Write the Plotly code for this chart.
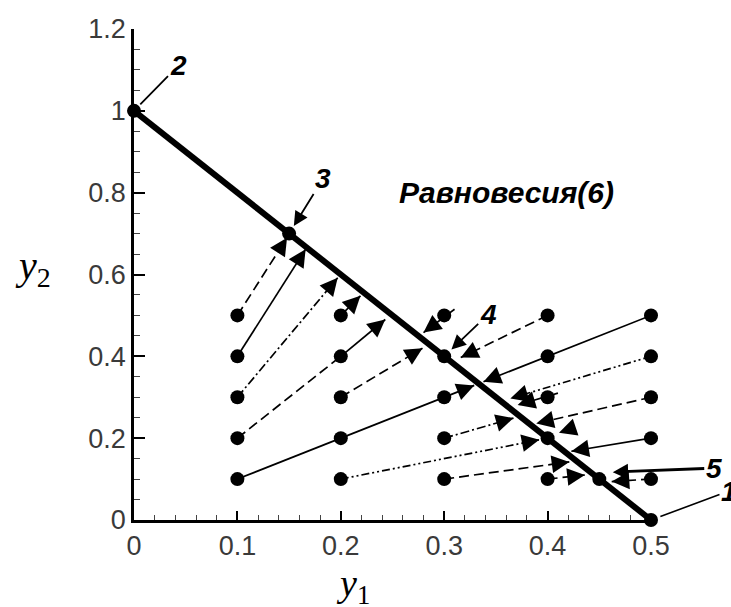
import math
import plotly.graph_objects as go

# ---------------- data ----------------
grid_x = [0.1, 0.2, 0.3, 0.4, 0.5]
grid_y = [0.1, 0.2, 0.3, 0.4, 0.5]

# special (labelled) points: 2, 3, 5, 1
special_x = [0.0, 0.15, 0.45, 0.5]
special_y = [1.0, 0.7, 0.1, 0.0]

# equilibrium line
eq_x = [0.0, 0.5]
eq_y = [1.0, 0.0]

# trajectories (start -> end)
traj_x0 = [0.1, 0.1, 0.1, 0.1, 0.2, 0.1, 0.2, 0.2, 0.2, 0.31, 0.3, 0.3, 0.4, 0.41, 0.4, 0.5, 0.5, 0.5, 0.5, 0.5]
traj_y0 = [0.5, 0.4, 0.3, 0.2, 0.4, 0.1, 0.5, 0.3, 0.1, 0.515, 0.2, 0.1, 0.5, 0.31, 0.1, 0.5, 0.4, 0.3, 0.2, 0.1]
traj_x1 = [0.148, 0.166, 0.197, 0.2, 0.243, 0.329, 0.219, 0.279, 0.392, 0.28, 0.367, 0.421, 0.316, 0.371, 0.436, 0.338, 0.364, 0.389, 0.423, 0.462]
traj_y1 = [0.69, 0.662, 0.592, 0.4, 0.49, 0.329, 0.548, 0.42, 0.196, 0.458, 0.249, 0.142, 0.397, 0.281, 0.11, 0.338, 0.297, 0.236, 0.168, 0.094]
traj_style = ["dash", "solid", "dashdot", "dash", "solid", "solid", "solid", "dash", "dashdotdot", "dashdot",
              "dashdot", "dash", "dash", "dash", "dash", "solid", "dashdotdot", "dash", "solid", "dash"]
traj_head = [True, True, True, False, True, True, True, True, True, True,
             True, True, True, True, True, True, True, True, True, True]

# lone arrow head near (0.41, 0.21)
lone_x0, lone_y0 = [0.425], [0.225]
lone_x1, lone_y1 = [0.411], [0.213]

x_ticks = [0, 0.1, 0.2, 0.3, 0.4, 0.5]
x_ticktext = ["0", "0.1", "0.2", "0.3", "0.4", "0.5"]
y_ticks = [0, 0.2, 0.4, 0.6, 0.8, 1.0, 1.2]
y_ticktext = ["0", "0.2", "0.4", "0.6", "0.8", "1", "1.2"]

# ---------------- layout geometry ----------------
W, H = 731, 607
ML, MR, MT, MB = 134, 80, 29, 87
XR = [0, 0.5]
YR = [0, 1.2]
sx = (W - ML - MR) / (XR[1] - XR[0])
sy = (H - MT - MB) / (YR[1] - YR[0])

dash_map = {
    "solid": "solid",
    "dash": "10px,5px",
    "dashdot": "9px,3px,2px,3px",
    "dashdotdot": "8px,3px,2px,3px,2px,3px",
}

fig = go.Figure()

# trajectories
for x0, y0, x1, y1, st in zip(traj_x0, traj_y0, traj_x1, traj_y1, traj_style):
    fig.add_trace(go.Scatter(x=[x0, x1], y=[y0, y1], mode="lines",
                             line=dict(color="black", width=1.7, dash=dash_map[st]),
                             hoverinfo="skip", showlegend=False))

# equilibrium line
fig.add_trace(go.Scatter(x=eq_x, y=eq_y, mode="lines",
                         line=dict(color="black", width=6),
                         hoverinfo="skip", showlegend=False))

# grid dots
gx = [x for x in grid_x for _ in grid_y]
gy = [y for _ in grid_x for y in grid_y]
fig.add_trace(go.Scatter(x=gx + special_x, y=gy + special_y, mode="markers",
                         marker=dict(color="black", size=14),
                         cliponaxis=False, hoverinfo="skip", showlegend=False))

annotations = []


def head(x0, y0, x1, y1, L=18):
    dxp = (x1 - x0) * sx
    dyp = -(y1 - y0) * sy
    n = math.hypot(dxp, dyp)
    return dict(x=x1, y=y1, xref="x", yref="y", text=" ", showarrow=True,
                font=dict(size=1),
                ax=-dxp / n * L, ay=-dyp / n * L,
                arrowhead=2, arrowsize=2.2, arrowwidth=1.6, arrowcolor="black",
                standoff=0)


for x0, y0, x1, y1, h in zip(traj_x0, traj_y0, traj_x1, traj_y1, traj_head):
    if h:
        annotations.append(head(x0, y0, x1, y1))
for x0, y0, x1, y1 in zip(lone_x0, lone_y0, lone_x1, lone_y1):
    annotations.append(head(x0, y0, x1, y1))

lab_font = dict(family="Liberation Sans, Arial, sans-serif", size=28, color="black")

# labelled points
annotations += [
    dict(x=0.0, y=1.0, xref="x", yref="y", text="<b><i>2</i></b>", font=lab_font,
         showarrow=True, ax=44, ay=-45, arrowhead=0, arrowwidth=1.8, arrowcolor="black", standoff=9),
    dict(x=0.15, y=0.7, xref="x", yref="y", text="<b><i>3</i></b>", font=lab_font,
         showarrow=True, ax=34, ay=-55, arrowhead=2, arrowsize=1.6, arrowwidth=1.8,
         arrowcolor="black", standoff=9),
    dict(x=0.3, y=0.4, xref="x", yref="y", text="<b><i>4</i></b>", font=lab_font,
         showarrow=True, ax=44, ay=-42, arrowhead=2, arrowsize=1.6, arrowwidth=1.8,
         arrowcolor="black", standoff=10),
    dict(x=0.463, y=0.117, xref="x", yref="y", text="<b><i>5</i></b>", font=lab_font,
         showarrow=True, ax=101, ay=-4, arrowhead=2, arrowsize=1.1, arrowwidth=2.8,
         arrowcolor="black", standoff=0),
    dict(x=0.5, y=0.0, xref="x", yref="y", text="<b><i>1</i></b>", font=lab_font,
         showarrow=True, ax=78, ay=-29, arrowhead=0, arrowwidth=1.6, arrowcolor="black", standoff=10),
    dict(x=0.36, y=0.8, xref="x", yref="y", text="<b><i>Равновесия(6)</i></b>",
         font=dict(family="Liberation Sans, Arial, sans-serif", size=30, color="black"),
         showarrow=False, xanchor="center", yanchor="middle"),
    dict(x=-0.195, y=0.513, xref="paper", yref="paper", text="<i>y</i><sub>2</sub>",
         font=dict(family="Liberation Serif, Times New Roman, serif", size=40, color="black"),
         showarrow=False, xanchor="center", yanchor="middle"),
    dict(x=0.424, y=-0.134, xref="paper", yref="paper", text="<i>y</i><sub>1</sub>",
         font=dict(family="Liberation Serif, Times New Roman, serif", size=38, color="black"),
         showarrow=False, xanchor="center", yanchor="middle"),
]

tick_font = dict(family="Liberation Sans, Arial, sans-serif", size=27, color="#3a3a3a")

fig.update_layout(
    width=W, height=H,
    margin=dict(l=ML, r=MR, t=MT, b=MB),
    paper_bgcolor="white", plot_bgcolor="white",
    showlegend=False,
    annotations=annotations,
    xaxis=dict(range=XR, showline=True, linecolor="black", linewidth=2.5,
               ticks="inside", ticklen=9, tickwidth=2, tickcolor="black",
               tickvals=x_ticks, ticktext=x_ticktext, tickfont=tick_font,
               showgrid=False, zeroline=False,
               minor=dict(ticks="inside", dtick=0.02, tick0=0, ticklen=5, tickwidth=1.3, tickcolor="#444")),
    yaxis=dict(range=YR, showline=True, linecolor="black", linewidth=2.5,
               ticks="inside", ticklen=11, tickwidth=2, tickcolor="black",
               tickvals=y_ticks, ticktext=y_ticktext, tickfont=tick_font,
               showgrid=False, zeroline=False,
               minor=dict(ticks="inside", dtick=0.05, tick0=0, ticklen=6, tickwidth=1.3, tickcolor="#444")),
)

fig.write_html("out.html")
